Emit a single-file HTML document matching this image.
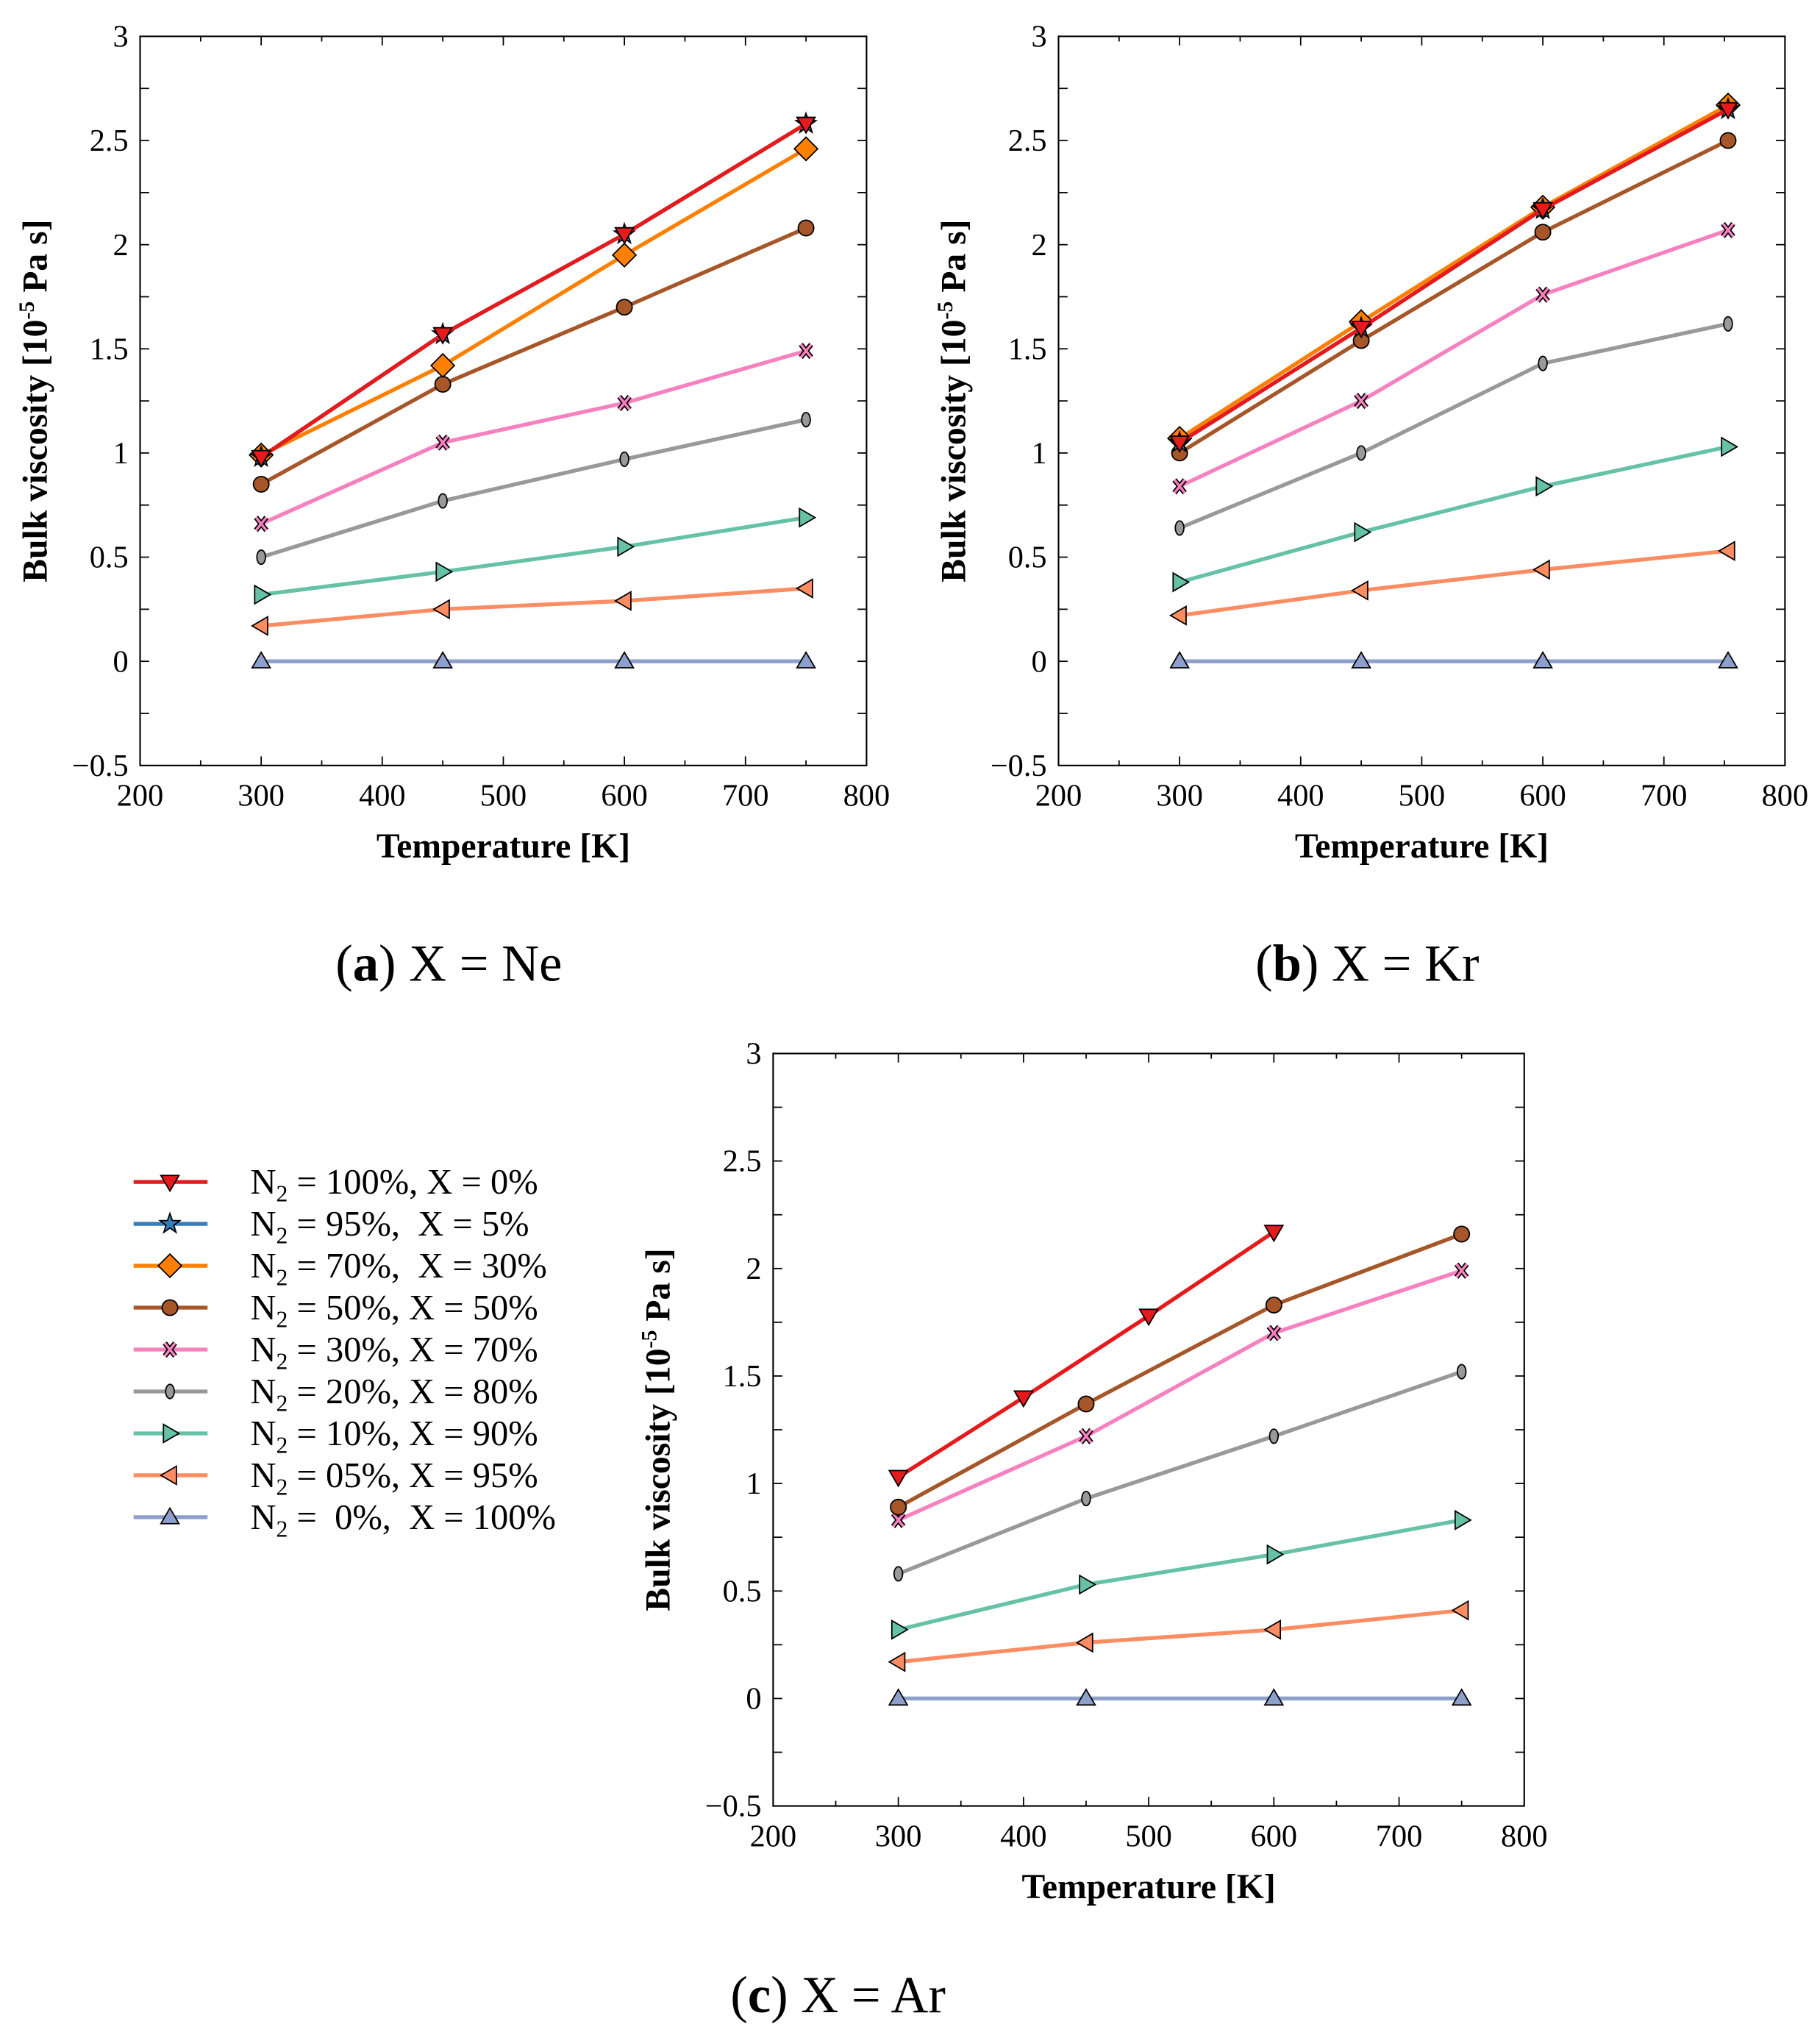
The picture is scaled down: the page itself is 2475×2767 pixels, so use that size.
<!DOCTYPE html>
<html><head><meta charset="utf-8"><style>
html,body{margin:0;padding:0;background:#fff}
svg{display:block}
text{font-family:"Liberation Serif",serif;fill:#000}
</style></head><body>
<svg id="s" width="2475" height="2767" viewBox="0 0 1403 1568.5" xmlns="http://www.w3.org/2000/svg"></svg>
<script>
const S=document.getElementById('s');let h='';
const C={r:'#e41a1c',b:'#377eb8',o:'#ff7f00',br:'#a65628',p:'#f781bf',g:'#999999',gr:'#66c2a5',s:'#fc8d62',bg:'#8da0cb'};
function mk(t,x,y,c){switch(t){
case 'dn':return `<polygon points="${x-7},${y-5} ${x+7},${y-5} ${x},${y+7}" fill="${c}" stroke="#000" stroke-width="1"/>`;
case 'up':return `<polygon points="${x-7},${y+5} ${x+7},${y+5} ${x},${y-7}" fill="${c}" stroke="#000" stroke-width="1"/>`;
case 'rt':return `<polygon points="${x-5},${y-7} ${x-5},${y+7} ${x+7},${y}" fill="${c}" stroke="#000" stroke-width="1"/>`;
case 'lt':return `<polygon points="${x+5},${y-7} ${x+5},${y+7} ${x-7},${y}" fill="${c}" stroke="#000" stroke-width="1"/>`;
case 'di':return `<polygon points="${x},${y-9} ${x+9},${y} ${x},${y+9} ${x-9},${y}" fill="${c}" stroke="#000" stroke-width="1"/>`;
case 'ci':return `<circle cx="${x}" cy="${y}" r="6" fill="${c}" stroke="#000" stroke-width="1"/>`;
case 'el':return `<ellipse cx="${x}" cy="${y}" rx="3.3" ry="5.5" fill="${c}" stroke="#000" stroke-width="1"/>`;
case 'x':return `<path d="M${x-4},${y-5}L${x+4},${y+5}M${x+4},${y-5}L${x-4},${y+5}" stroke="#000" stroke-width="4"/><path d="M${x-4},${y-5}L${x+4},${y+5}M${x+4},${y-5}L${x-4},${y+5}" stroke="${c}" stroke-width="2"/>`;
case 'st':{let p=[];for(let i=0;i<10;i++){const a=-Math.PI/2+i*Math.PI/5,rr=i%2?3.2:8;p.push((x+rr*Math.cos(a)).toFixed(1)+','+(y+rr*Math.sin(a)).toFixed(1));}return `<polygon points="${p.join(' ')}" fill="${c}" stroke="#000" stroke-width="1"/>`;}
}}
function panel(L,R,T,B,series,ylx){
 const X=v=>L+(v-200)/600*(R-L), Y=v=>T+(3-v)/3.5*(B-T);
 h+=`<rect x="${L}" y="${T}" width="${R-L}" height="${B-T}" fill="none" stroke="#000" stroke-width="1.2"/>`;
 for(let v=250;v<800;v+=50){const x=X(v),l=v%100?4:7;h+=`<line x1="${x}" y1="${B}" x2="${x}" y2="${B-l}" stroke="#000"/><line x1="${x}" y1="${T}" x2="${x}" y2="${T+l}" stroke="#000"/>`;}
 for(let v=-0.25;v<3;v+=0.25){const y=Y(v);h+=`<line x1="${L}" y1="${y}" x2="${L+7}" y2="${y}" stroke="#000"/><line x1="${R}" y1="${y}" x2="${R-7}" y2="${y}" stroke="#000"/>`;}
 for(let v=200;v<=800;v+=100)h+=`<text x="${X(v)}" y="${B+31}" font-size="24" text-anchor="middle">${v}</text>`;
 for(let i=0;i<=7;i++){const v=-0.5+i*0.5;h+=`<text x="${L-9}" y="${Y(v)+8}" font-size="24" text-anchor="end">${v<0?'\u22120.5':v}</text>`;}
 h+=`<text x="${(L+R)/2}" y="${B+71}" font-size="27" font-weight="bold" text-anchor="middle">Temperature [K]</text>`;
 const cy=(T+B)/2;
 h+=`<text transform="translate(${ylx},${cy}) rotate(-90)" font-size="27" font-weight="bold" text-anchor="middle">Bulk viscosity [10<tspan dy="-10" font-size="17">-5</tspan><tspan dy="10"> Pa s]</tspan></text>`;
 for(const s of series){const pts=s.d.map(([t,v])=>[X(t),Y(v)]);
  h+=`<polyline points="${pts.map(p=>p.join(',')).join(' ')}" fill="none" stroke="${s.c}" stroke-width="3"/>`;
  h+=pts.map(p=>mk(s.m,p[0],p[1],s.c)).join('');}
}
const T4=[300,450,600,750];
const z=(a,t=T4)=>t.map((x,i)=>[x,a[i]]);
panel(108,668,28,590,[
 {c:C.bg,m:'up',d:z([0,0,0,0])},
 {c:C.s,m:'lt',d:z([0.17,0.25,0.29,0.35])},
 {c:C.gr,m:'rt',d:z([0.32,0.43,0.55,0.69])},
 {c:C.g,m:'el',d:z([0.50,0.77,0.97,1.16])},
 {c:C.p,m:'x',d:z([0.66,1.05,1.24,1.49])},
 {c:C.br,m:'ci',d:z([0.85,1.33,1.70,2.08])},
 {c:C.o,m:'di',d:z([0.99,1.42,1.95,2.46])},
 {c:C.b,m:'st',d:z([0.98,1.57,2.05,2.58])},
 {c:C.r,m:'dn',d:z([0.98,1.57,2.05,2.58])},
],36);
const Tb=[300,450,600,753];
panel(816,1376,28,590,[
 {c:C.bg,m:'up',d:z([0,0,0,0],Tb)},
 {c:C.s,m:'lt',d:z([0.22,0.34,0.44,0.53],Tb)},
 {c:C.gr,m:'rt',d:z([0.38,0.62,0.84,1.03],Tb)},
 {c:C.g,m:'el',d:z([0.64,1.0,1.43,1.62],Tb)},
 {c:C.p,m:'x',d:z([0.84,1.25,1.76,2.07],Tb)},
 {c:C.br,m:'ci',d:z([1.0,1.54,2.06,2.50],Tb)},
 {c:C.o,m:'di',d:z([1.07,1.63,2.18,2.67],Tb)},
 {c:C.b,m:'st',d:z([1.05,1.60,2.17,2.65],Tb)},
 {c:C.r,m:'dn',d:z([1.05,1.60,2.17,2.65],Tb)},
],744);
panel(596,1175,812,1392,[
 {c:C.bg,m:'up',d:z([0,0,0,0])},
 {c:C.s,m:'lt',d:z([0.17,0.26,0.32,0.41])},
 {c:C.gr,m:'rt',d:z([0.32,0.53,0.67,0.83])},
 {c:C.g,m:'el',d:z([0.58,0.93,1.22,1.52])},
 {c:C.p,m:'x',d:z([0.83,1.22,1.70,1.99])},
 {c:C.br,m:'ci',d:z([0.89,1.37,1.83,2.16])},
 {c:C.r,m:'dn',d:z([1.03,1.40,1.78,2.17],[300,400,500,600])},
],516);
h+=`<text x="346" y="756" font-size="40" text-anchor="middle">(<tspan font-weight="bold">a</tspan>) X = Ne</text>`;
h+=`<text x="1054" y="756" font-size="40" text-anchor="middle">(<tspan font-weight="bold">b</tspan>) X = Kr</text>`;
h+=`<text x="646" y="1551" font-size="40" text-anchor="middle">(<tspan font-weight="bold">c</tspan>) X = Ar</text>`;
const leg=[[C.r,'dn','= 100%, X = 0%'],[C.b,'st','= 95%,  X = 5%'],[C.o,'di','= 70%,  X = 30%'],[C.br,'ci','= 50%, X = 50%'],[C.p,'x','= 30%, X = 70%'],[C.g,'el','= 20%, X = 80%'],[C.gr,'rt','= 10%, X = 90%'],[C.s,'lt','= 05%, X = 95%'],[C.bg,'up','=  0%,  X = 100%']];
leg.forEach((l,i)=>{const y=911+i*32.3;
 h+=`<line x1="103" y1="${y}" x2="160" y2="${y}" stroke="${l[0]}" stroke-width="3"/>`+mk(l[1],131,y,l[0]);
 h+=`<text x="193" y="${y+9}" font-size="27.5" xml:space="preserve">N<tspan dy="6" font-size="18">2</tspan><tspan dy="-6"> ${l[2]}</tspan></text>`;});
S.innerHTML=h;
</script>
</body></html>
